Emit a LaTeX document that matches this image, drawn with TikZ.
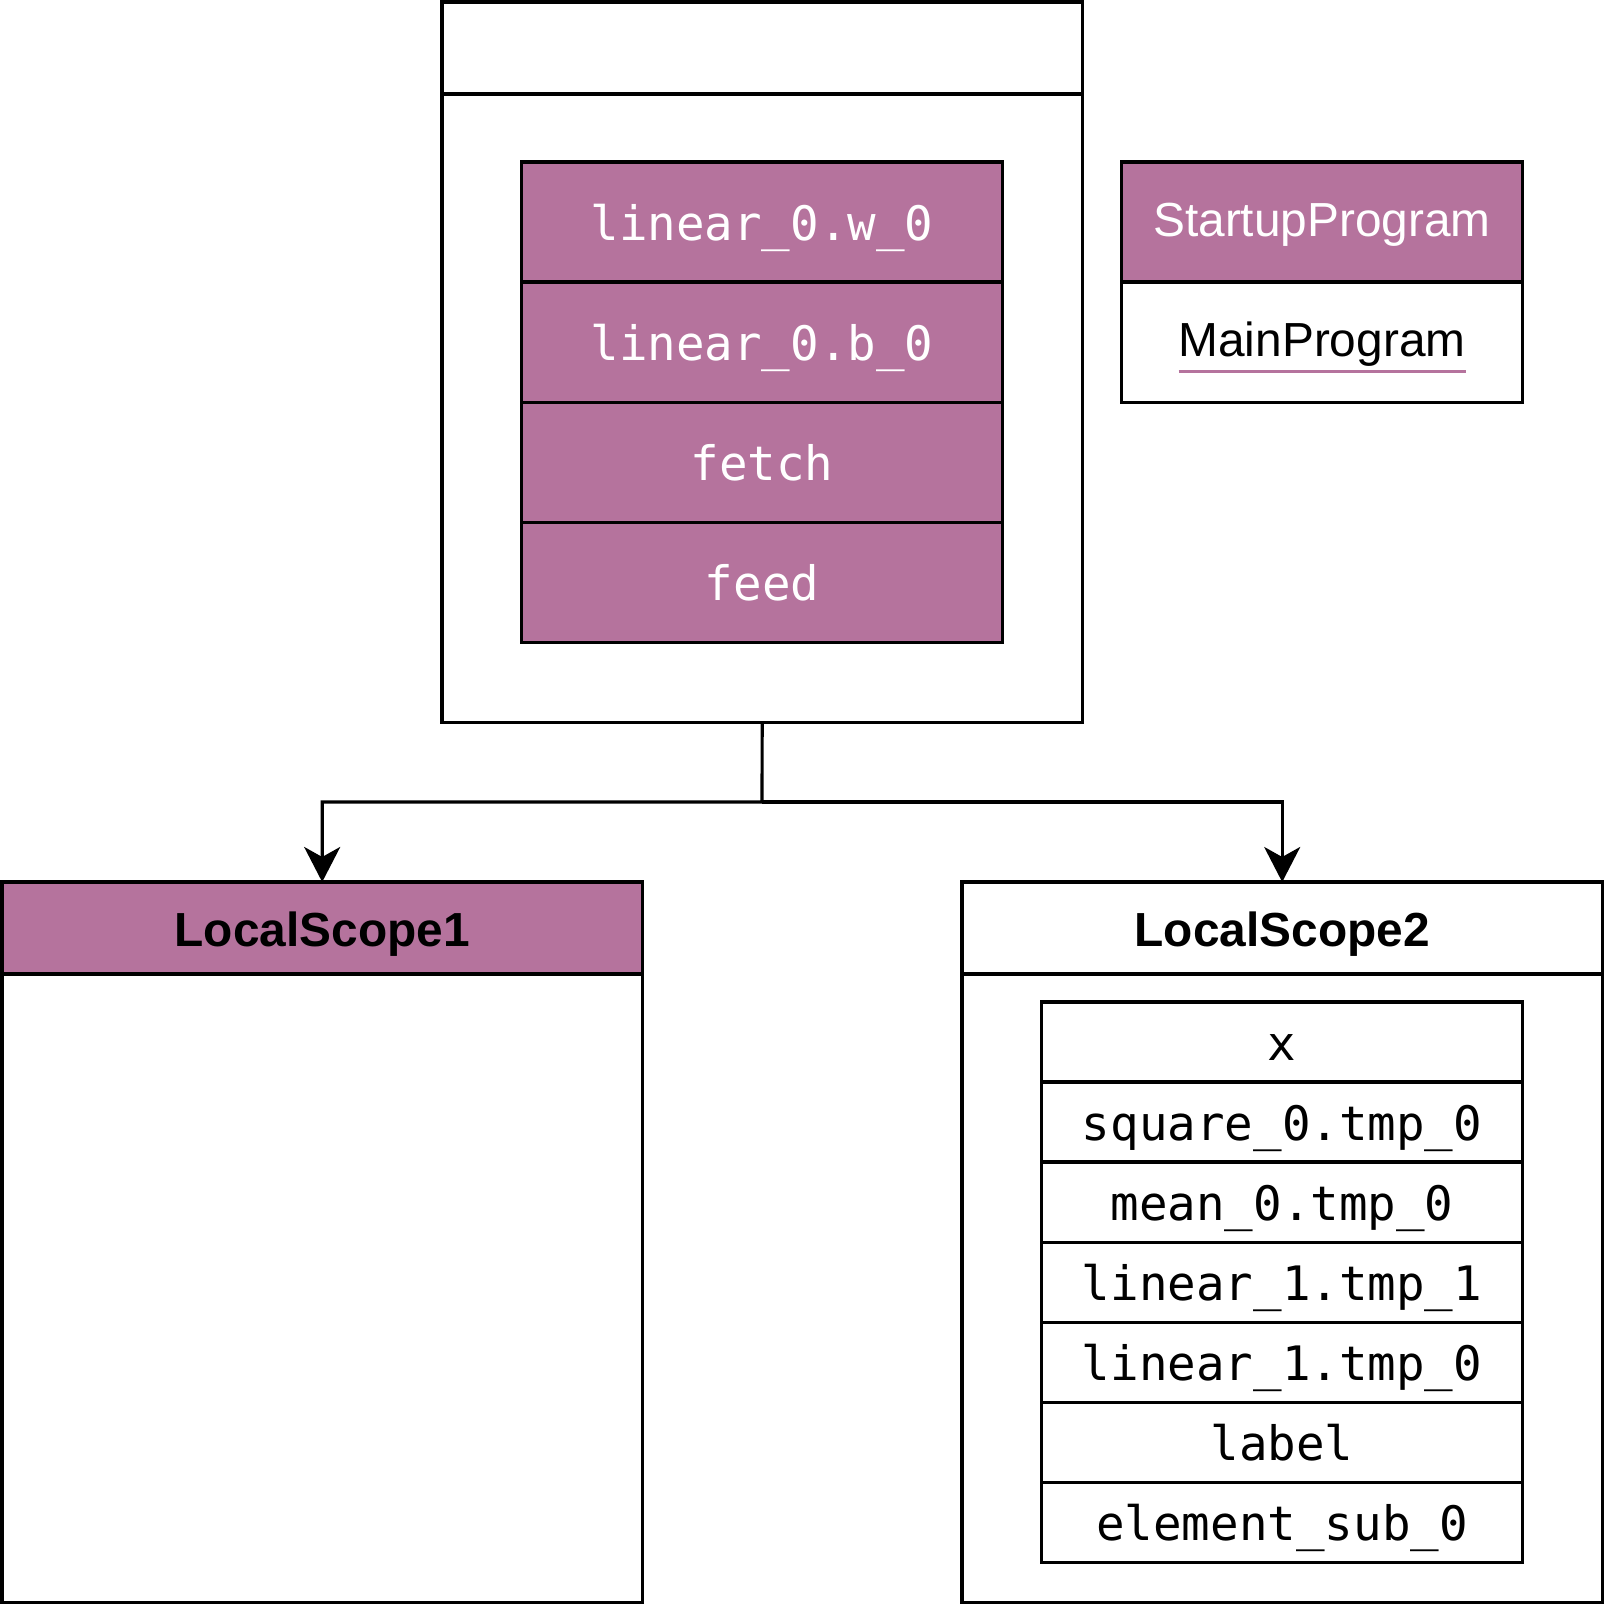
\documentclass[tikz,border=0pt]{standalone}
\usepackage{fontspec}
\setmainfont{Liberation Sans}
\setmonofont{DejaVu Sans Mono}
\usetikzlibrary{positioning,chains,arrows.meta}
\definecolor{mypurple}{RGB}{181,115,157}

\newsavebox\ulbox
\newcommand\linkul[1]{\sbox\ulbox{#1}\rlap{\color{mypurple}\rule[-4.6pt]{\wd\ulbox}{0.9pt}}\usebox\ulbox}

\begin{document}
\begin{tikzpicture}[x=0.01cm,y=-0.01cm,line width=0.9pt,
  every node/.style={draw,inner sep=0pt,outer sep=0pt,text height=10.6pt,text depth=0pt},
  scopebox/.style={minimum width=6.4cm,minimum height=7.2cm,anchor=north west},
  headbox/.style={minimum width=6.4cm,minimum height=0.92cm,anchor=north west,
    font=\fontsize{13.6}{16}\selectfont\bfseries},
  pvar/.style={fill=mypurple,text=white,minimum width=4.8cm,minimum height=1.2cm,
    font=\fontsize{13.5}{16}\selectfont\ttfamily},
  lvar/.style={minimum width=4.8cm,minimum height=0.8cm,
    font=\fontsize{13.5}{16}\selectfont\ttfamily},
  progcell/.style={minimum width=4cm,minimum height=1.2cm,text height=8.3pt,
    font=\fontsize{13.6}{16}\selectfont},
  link/.style={-{Stealth[length=0.35cm,width=0.36cm,inset=0.1cm]}}
]
\useasboundingbox (0,0) rectangle (1604,1604);

% the global scope
\node[scopebox] (prog) at (442,2) {};
\node[headbox] (proghead) at (prog.north west) {};
\begin{scope}[shift={(762,222)},start chain=going below,node distance=0pt]
\foreach \t [count=\i] in {linear\_0.w\_0,linear\_0.b\_0,fetch,feed}
  \node[pvar,on chain] (p\i) {\t};
\end{scope}

% the programs
\node[progcell,fill=mypurple,text=white] (startup) at (1322,222) {StartupProgram};
\node[progcell,below=0pt of startup] (mainprog) {\linkul{MainProgram}};

% the local scopes
\node[scopebox] (ls1) at (2,882) {};
\node[headbox,fill=mypurple] (ls1head) at (ls1.north west) {LocalScope1};
\node[scopebox] (ls2) at (962,882) {};
\node[headbox] (ls2head) at (ls2.north west) {LocalScope2};
\begin{scope}[shift={(1282,1042)},start chain=going below,node distance=0pt]
\foreach \t [count=\i] in {x,square\_0.tmp\_0,mean\_0.tmp\_0,linear\_1.tmp\_1,
    linear\_1.tmp\_0,label,element\_sub\_0}
  \node[lvar,on chain] (l\i) {\t};
\end{scope}

% the edges
\coordinate (fork) at (762,802);
\draw[link] (prog.south) -- (fork) -| (ls1head.north);
\draw[link] (fork) -| (ls2head.north);
\end{tikzpicture}
\end{document}
